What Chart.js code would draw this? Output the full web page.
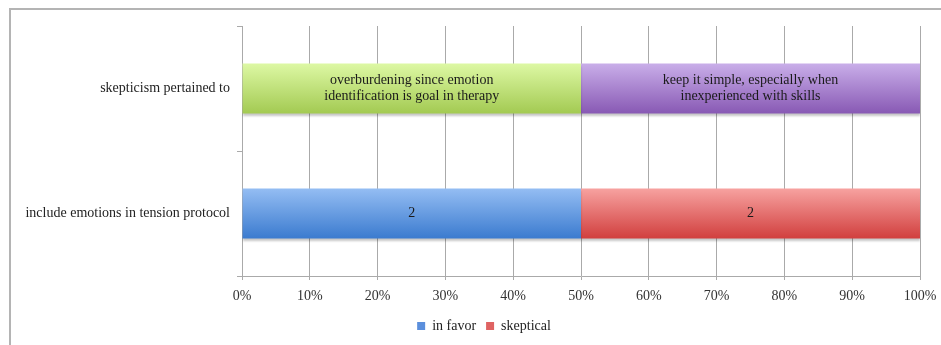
<!DOCTYPE html>
<html>
<head>
<meta charset="utf-8">
<script src="https://cdn.jsdelivr.net/npm/chart.js@4"></script>
<style>
    html, body { margin: 0; padding: 0; background: #fff; }
    .frame {
        position: absolute; left: 9px; top: 8px; width: 932px; height: 337px;
        border-left: 2px solid #b4b4b4; border-top: 2px solid #b4b4b4;
    }
    .chart-container { position: absolute; left: 0; top: 0; width: 941px; height: 345px; }
</style>
</head>
<body>
<div class="frame"></div>
<div class="chart-container"><canvas id="opinionChart" width="941" height="345"></canvas></div>
<script>
const categories = ['skepticism pertained to', 'include emotions in tension protocol'];
const tickLabels = ['0%', '10%', '20%', '30%', '40%', '50%', '60%', '70%', '80%', '90%', '100%'];

// counts per row (null = not part of that row)
const inFavor = [null, 2];
const skeptical = [null, 2];
const overburdening = [1, null];
const keepSimple = [1, null];

const overburdeningText = ['overburdening since emotion', 'identification is goal in therapy'];
const keepSimpleText = ['keep it simple, especially when', 'inexperienced with skills'];

const rowTotals = categories.map((c, i) =>
    [inFavor, skeptical, overburdening, keepSimple].reduce((s, arr) => s + (arr[i] || 0), 0));
const toPercent = arr => arr.map((v, i) => v == null ? null : v / rowTotals[i] * 100);

const fontFamily = '"Liberation Serif", "DejaVu Serif", serif';

// top / bottom colours for each bar's vertical gradient
function barGradient(top, bottom) {
    return function (context) {
        const chart = context.chart;
        const yScale = chart.scales.y;
        if (!chart.chartArea || !yScale) return bottom;
        const center = yScale.getPixelForValue(context.dataIndex);
        const half = Math.abs(yScale.getPixelForValue(1) - yScale.getPixelForValue(0)) * 0.2;
        const g = chart.ctx.createLinearGradient(0, center - half, 0, center + half);
        g.addColorStop(0, top);
        g.addColorStop(1, bottom);
        return g;
    };
}

const barShadow = {
    id: 'barShadow',
    beforeDatasetDraw(chart) {
        const ctx = chart.ctx;
        ctx.save();
        ctx.shadowColor = 'rgba(0, 0, 0, 0.22)';
        ctx.shadowOffsetY = 2;
        ctx.shadowBlur = 2;
    },
    afterDatasetDraw(chart) {
        chart.ctx.restore();
    }
};

const barText = {
    id: 'barText',
    afterDatasetsDraw(chart) {
        const ctx = chart.ctx;
        ctx.save();
        ctx.font = '14px ' + fontFamily;
        ctx.fillStyle = '#1a1a1a';
        ctx.textAlign = 'center';
        ctx.textBaseline = 'middle';
        chart.data.datasets.forEach((ds, di) => {
            const meta = chart.getDatasetMeta(di);
            meta.data.forEach((bar, i) => {
                if (ds.data[i] == null) return;
                const p = bar.getProps(['x', 'y', 'base'], true);
                const cx = (p.x + p.base) / 2;
                const lines = ds.innerText || [String(ds.counts[i])];
                const lh = 16;
                lines.forEach((line, k) => {
                    ctx.fillText(line, cx, p.y + (k - (lines.length - 1) / 2) * lh);
                });
            });
        });
        ctx.restore();
    }
};

// centre the legend under the framed area rather than the whole canvas
const legendShift = {
    id: 'legendShift',
    afterLayout(chart) {
        if (chart.legend) chart.legend.left = 48;
    }
};

document.addEventListener('DOMContentLoaded', () => {
    const ctx = document.getElementById('opinionChart').getContext('2d');
    new Chart(ctx, {
        type: 'bar',
        data: {
            labels: categories,
            datasets: [
                {
                    label: 'in favor',
                    data: toPercent(inFavor),
                    counts: inFavor,
                    backgroundColor: barGradient('#94bdf3', '#3b7bcf'),
                    legendColor: '#5b8fdc'
                },
                {
                    label: 'overburdening',
                    data: toPercent(overburdening),
                    counts: overburdening,
                    innerText: overburdeningText,
                    backgroundColor: barGradient('#ddf8a4', '#a3ca52')
                },
                {
                    label: 'skeptical',
                    data: toPercent(skeptical),
                    counts: skeptical,
                    backgroundColor: barGradient('#f7a2a0', '#d13f3e'),
                    legendColor: '#df6362'
                },
                {
                    label: 'keep it simple',
                    data: toPercent(keepSimple),
                    counts: keepSimple,
                    innerText: keepSimpleText,
                    backgroundColor: barGradient('#c9aee9', '#8859b4')
                }
            ]
        },
        options: {
            indexAxis: 'y',
            responsive: false,
            animation: false,
            barPercentage: 0.4,
            categoryPercentage: 1,
            layout: { padding: { top: 26, right: 21, bottom: 2, left: 0 } },
            scales: {
                x: {
                    stacked: true,
                    min: 0,
                    max: 100,
                    afterBuildTicks(scale) {
                        scale.ticks = tickLabels.map((t, i) => ({ value: i * 10 }));
                    },
                    ticks: {
                        callback: (v, i) => tickLabels[i],
                        font: { family: fontFamily, size: 14 },
                        color: '#333',
                        padding: 8,
                        maxRotation: 0
                    },
                    grid: { color: '#aaaaaa', lineWidth: 1, tickLength: 4 },
                    border: { color: '#aaaaaa' },
                    afterFit(scale) {
                        scale.height = 33;
                        scale.paddingLeft = 0;
                        scale.paddingRight = 0;
                    }
                },
                y: {
                    stacked: true,
                    offset: true,
                    grid: { offset: true, drawOnChartArea: false, color: '#aaaaaa', tickLength: 5 },
                    border: { color: '#aaaaaa' },
                    ticks: {
                        font: { family: fontFamily, size: 14 },
                        color: '#222',
                        padding: 7
                    },
                    afterFit(scale) { scale.width = 242; }
                }
            },
            plugins: {
                legend: {
                    position: 'bottom',
                    labels: {
                        font: { family: fontFamily, size: 14 },
                        color: '#222',
                        boxWidth: 8,
                        boxHeight: 8,
                        padding: 10,
                        filter: item => item.text === 'in favor' || item.text === 'skeptical',
                        generateLabels(chart) {
                            return chart.data.datasets.map((ds, i) => ({
                                text: ds.label,
                                fillStyle: ds.legendColor || '#999',
                                strokeStyle: ds.legendColor || '#999',
                                lineWidth: 0,
                                hidden: false,
                                datasetIndex: i,
                                fontColor: '#222'
                            }));
                        }
                    }
                },
                tooltip: { enabled: false }
            }
        },
        plugins: [barShadow, barText, legendShift]
    });
});
</script>
</body>
</html>
